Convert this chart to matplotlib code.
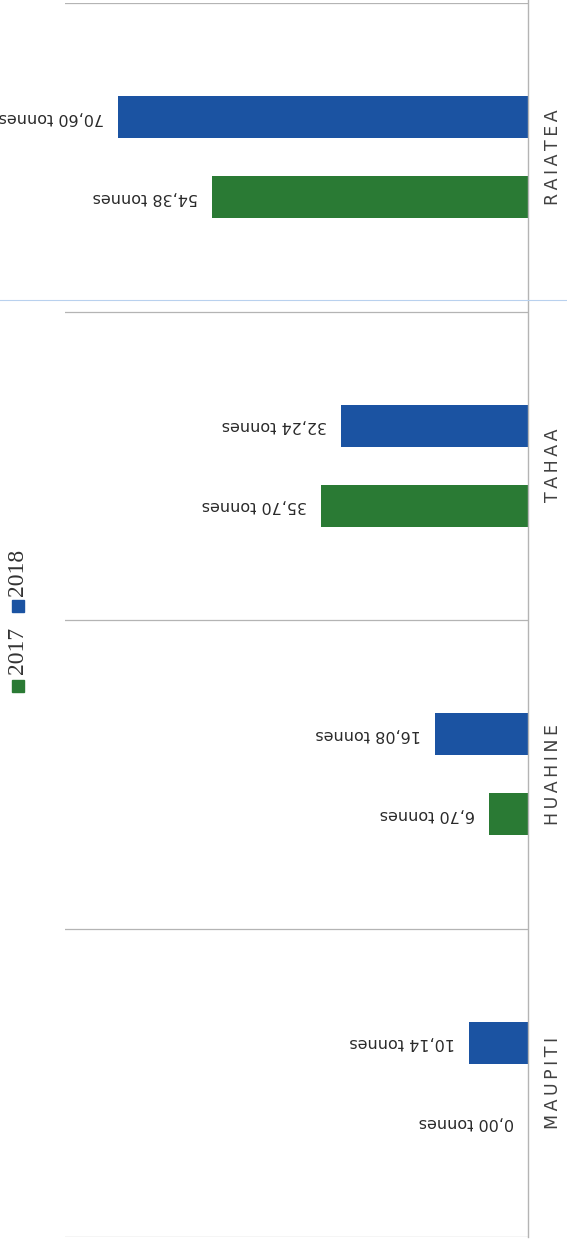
import numpy as np
import matplotlib

matplotlib.use("Agg")
import matplotlib.pyplot as plt
from matplotlib.patches import Rectangle
from matplotlib.lines import Line2D

# Waste collected per island (tonnes), top to bottom
islands = ["RAIATEA", "TAHAA", "HUAHINE", "MAUPITI"]
years = ["2017", "2018"]
tonnes_2017 = [54.38, 35.70, 6.70, 0.00]
tonnes_2018 = [70.60, 32.24, 16.08, 10.14]

GREEN = "#2a7a34"
BLUE = "#1b53a2"
GRID = "#b4b4b4"

W, H = 567, 1246


def fx(px):
    return px / W


def fy(py):
    return 1 - py / H


def fmt(v):
    return f"{v:.2f}".replace(".", ",") + " tonnes"


fig = plt.figure(figsize=(W / 100, H / 100), dpi=100)
ax = fig.add_axes([fx(65), fy(1237), (528 - 65) / W, (1237 - 3) / H])

idx = np.arange(len(islands))
off, bh = 0.13, 0.137
ax.barh(idx - off, tonnes_2018, height=bh, color=BLUE)
ax.barh(idx + off, tonnes_2017, height=bh, color=GREEN)

ax.set_xlim(79.7, 0)
ax.set_ylim(3.5, -0.5)

for y, v in zip(idx - off, tonnes_2018):
    ax.text(v + 2.4, y, fmt(v), rotation=180, ha="right", va="center",
            fontsize=11.5, color="#2a2a2a", clip_on=False)
for y, v in zip(idx + off, tonnes_2017):
    ax.text(v + 2.4, y, fmt(v), rotation=180, ha="right", va="center",
            fontsize=11.5, color="#2a2a2a", clip_on=False)

# category names beside the axis, letter-spaced
for y, name in zip(idx, islands):
    ax.text(1.054, y, "\u2009".join(name), transform=ax.get_yaxis_transform(),
            rotation=90, ha="center", va="center", fontsize=12.5, color="#404040")

# separators between island groups
for b in np.arange(-0.5, len(islands), 1.0):
    ax.axhline(b, color=GRID, linewidth=0.9)

for s in ax.spines.values():
    s.set_visible(False)
ax.set_xticks([])
ax.set_yticks([])

# value axis line
fig.add_artist(Line2D([fx(528), fx(528)], [fy(0), fy(1237)], color=GRID, linewidth=1.0))
fig.add_artist(Line2D([0, 1], [fy(300), fy(300)], color="#b9d1ee", linewidth=0.8))

# legend
for color, year, sq_y, txt_y in [(GREEN, years[0], 686, 650), (BLUE, years[1], 606, 572)]:
    fig.add_artist(Rectangle((fx(12), fy(sq_y + 6)), 12 / W, 12 / H,
                             transform=fig.transFigure, color=color))
    fig.text(fx(18), fy(txt_y), year, rotation=90, ha="center", va="center",
             fontsize=17, family="Liberation Serif", color="#333333")

fig.savefig("out.png", dpi=100)
